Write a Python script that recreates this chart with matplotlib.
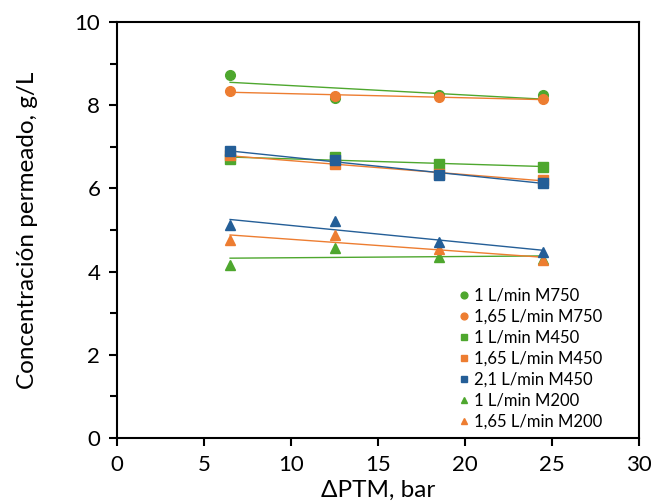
import matplotlib.pyplot as plt
import numpy as np

plt.rcParams['font.family'] = ['Lato', 'DejaVu Sans']

ptm = [6.5, 12.5, 18.5, 24.5]

m750_1 = [8.72, 8.18, 8.24, 8.25]
m750_165 = [8.33, 8.22, 8.20, 8.14]
m450_1 = [6.71, 6.75, 6.59, 6.51]
m450_165 = [6.80, 6.58, 6.34, 6.21]
m450_21 = [6.89, 6.68, 6.33, 6.14]
m200_1 = [4.17, 4.57, 4.36, 4.30]
m200_165 = [4.76, 4.87, 4.55, 4.27]
m200_21 = [5.13, 5.21, 4.72, 4.47]

labels = ['1 L/min M750', '1,65 L/min M750', '1 L/min M450', '1,65 L/min M450',
          '2,1 L/min M450', '1 L/min M200', '1,65 L/min M200', '2,1 L/min M200']

green = '#4ea72e'
orange = '#ed7d31'
blue = '#245e97'

series = [
    (m750_1, 'o', green),
    (m750_165, 'o', orange),
    (m450_1, 's', green),
    (m450_165, 's', orange),
    (m450_21, 's', blue),
    (m200_1, '^', green),
    (m200_165, '^', orange),
    (m200_21, '^', blue),
]

fig = plt.figure(figsize=(6.51, 5.01), dpi=100)
ax = fig.add_axes([0.1797, 0.1257, 0.8019, 0.8304])

x = np.array(ptm)
handles = []
for (vals, mk, col), lab in zip(series, labels):
    h, = ax.plot(x, vals, linestyle='none', marker=mk, color=col,
                 markersize=7, label=lab, zorder=3)
    handles.append(h)
    k, b = np.polyfit(x, vals, 1)
    ax.plot(x, k * x + b, color=col, lw=1.0, zorder=2)

ax.set_xlim(0, 30)
ax.set_ylim(0, 10)
ax.set_xticks(range(0, 31, 5))
ax.set_yticks(range(0, 11, 2))
ax.set_yticks(range(1, 10, 2), minor=True)
ax.tick_params(axis='both', which='both', direction='out', width=1.5,
               labelsize=16, pad=6)
ax.tick_params(which='major', length=6)
ax.tick_params(which='minor', length=5)
for s in ax.spines.values():
    s.set_linewidth(1.5)

ax.set_xlabel('ΔPTM, bar', fontsize=17.5, labelpad=4)
ax.set_ylabel('Concentración permeado, g/L', fontsize=17.5, labelpad=26)

# the source legend only lists the first seven series
ax.legend(handles=handles[:7], loc='lower right', bbox_to_anchor=(0.945, 0.0),
          frameon=False, fontsize=12, handlelength=0.6, handletextpad=0.3,
          markerscale=0.7, borderaxespad=0.1, labelspacing=0.3)

fig.savefig('out.png', dpi=100)
